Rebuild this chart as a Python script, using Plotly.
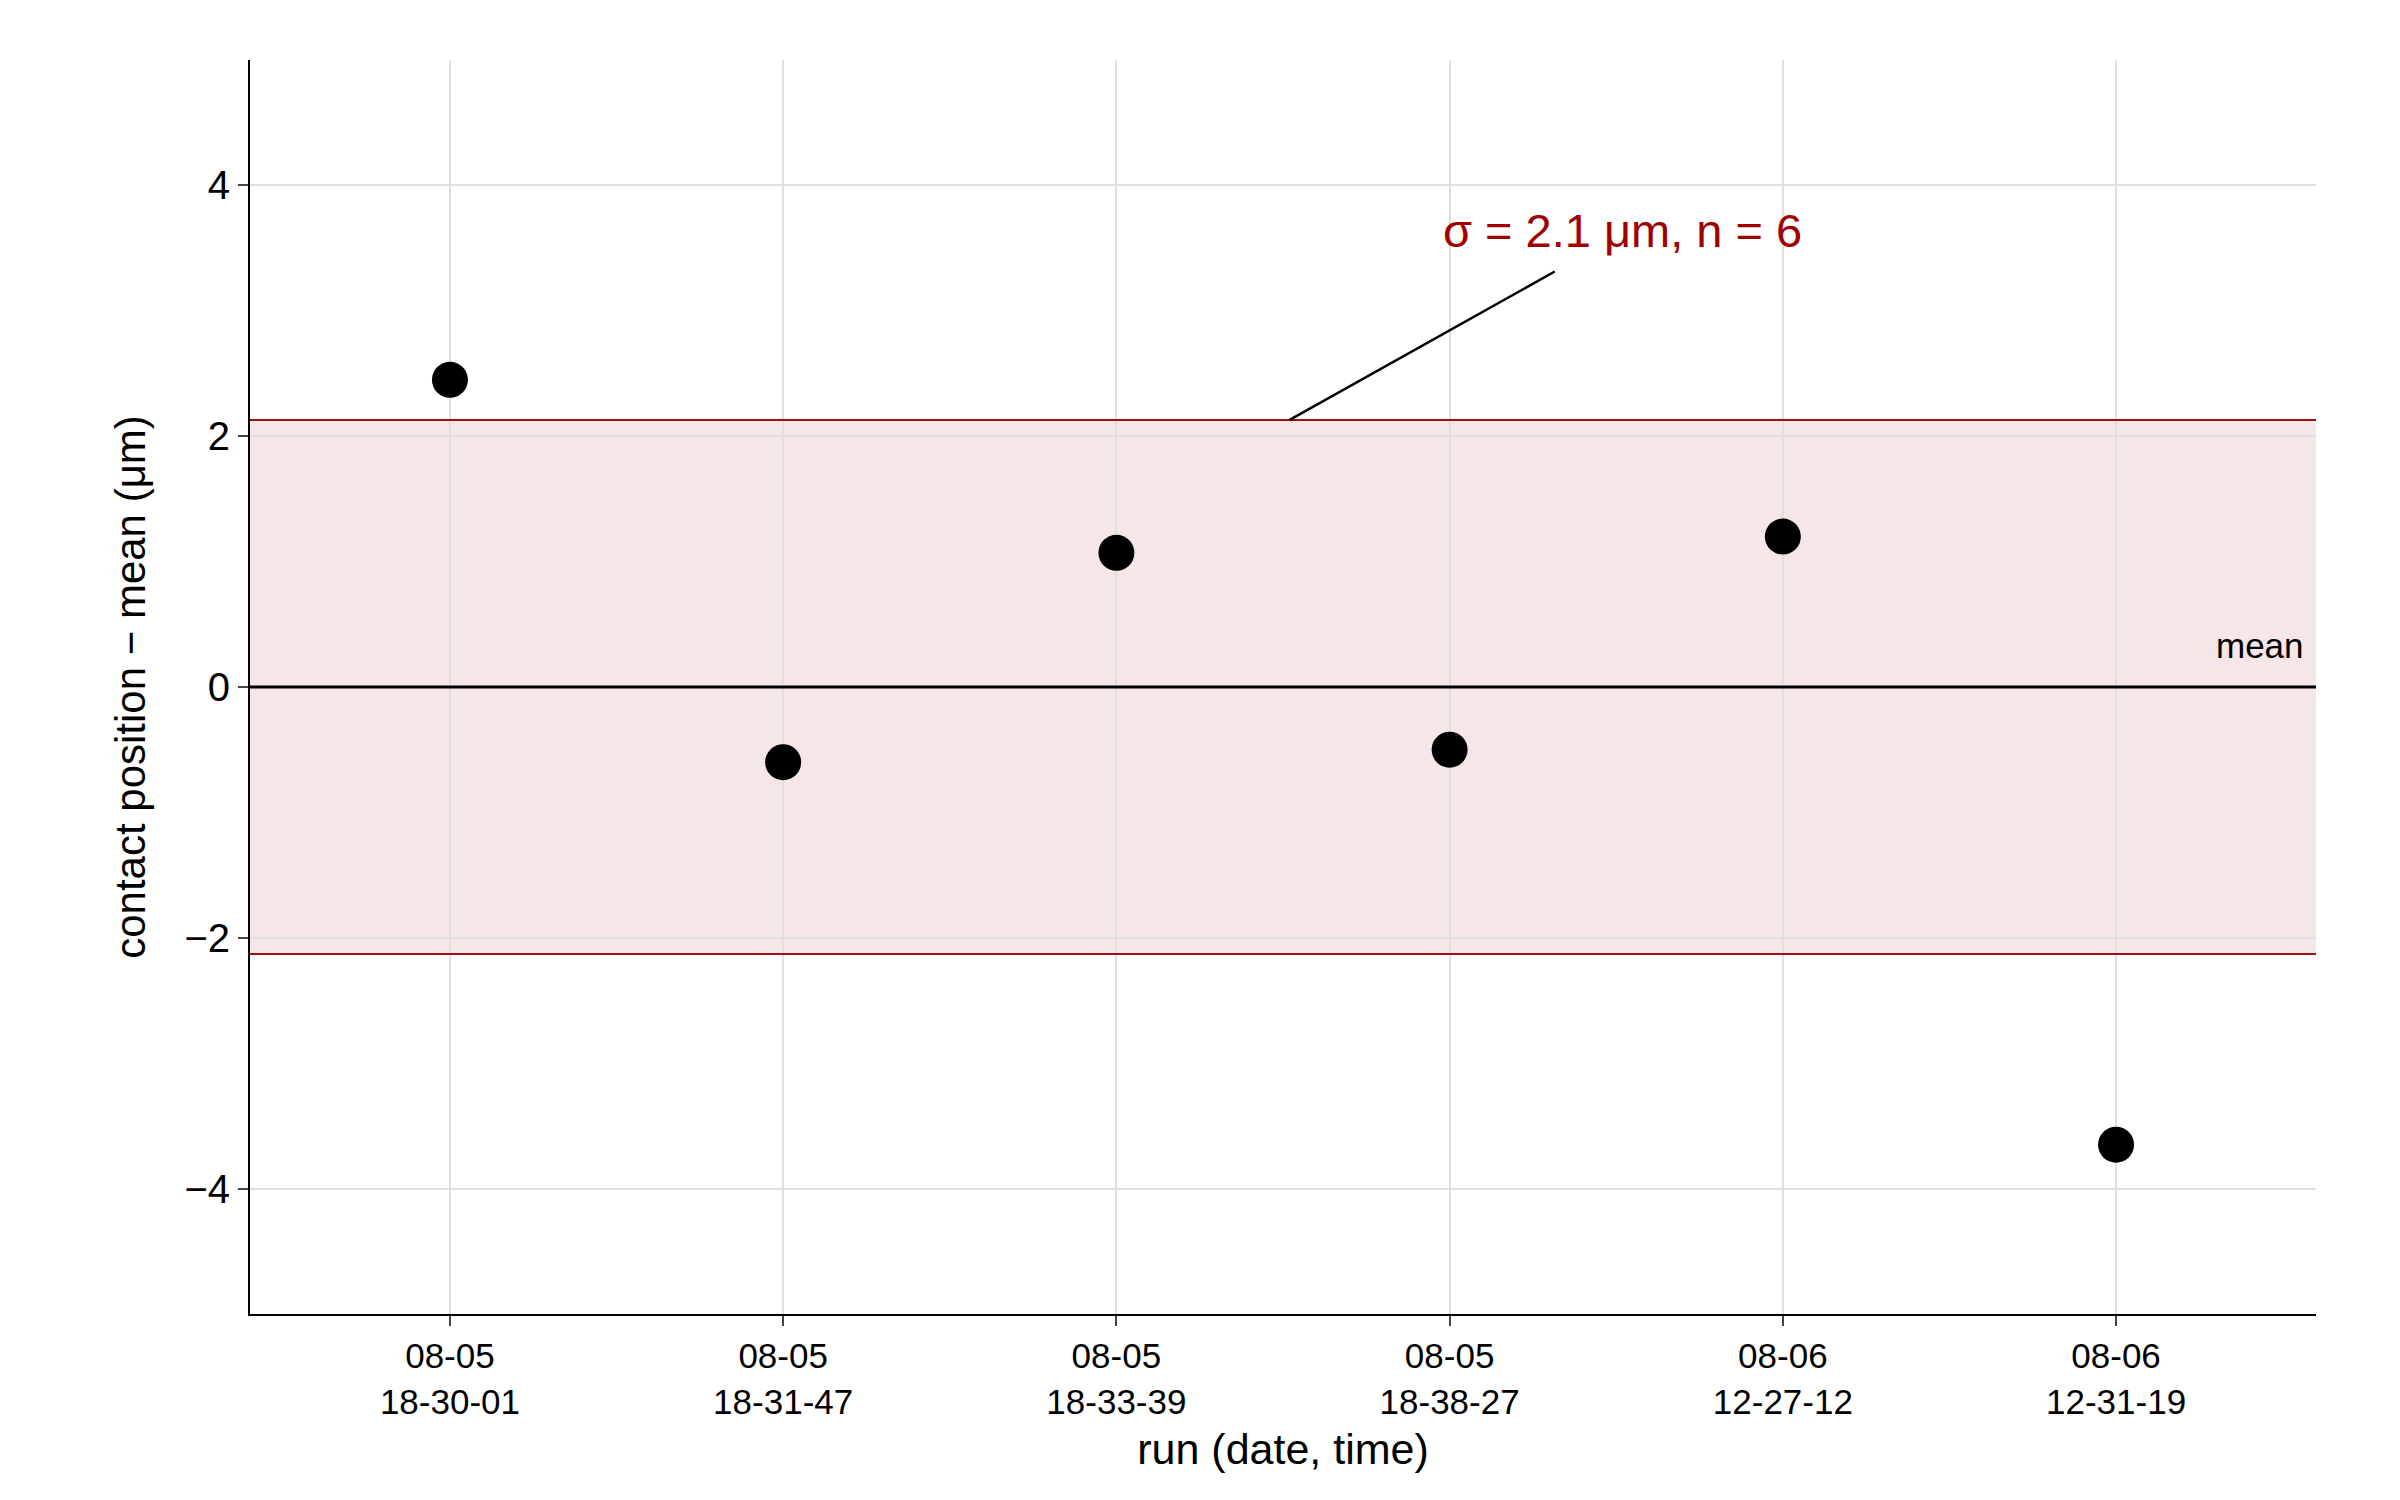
import plotly.graph_objects as go

runs = ["08-05<br>18-30-01", "08-05<br>18-31-47", "08-05<br>18-33-39",
        "08-05<br>18-38-27", "08-06<br>12-27-12", "08-06<br>12-31-19"]
values = [2.45, -0.60, 1.07, -0.50, 1.20, -3.65]
sigma = 2.13
n = len(values)
idx = list(range(n))

F = "Liberation Sans, Arial, sans-serif"
fig = go.Figure()
fig.add_hrect(y0=-sigma, y1=sigma, fillcolor="rgba(160,30,40,0.11)", line_width=0, layer="below")
for yv in (sigma, -sigma):
    fig.add_hline(y=yv, line=dict(color="#a01010", width=2))
fig.add_hline(y=0, line=dict(color="black", width=3))
fig.add_trace(go.Scatter(x=idx, y=values, mode="markers",
                         marker=dict(color="black", size=36), showlegend=False))
fig.add_annotation(x=2.52, y=sigma, ax=3.32, ay=3.32, xref="x", yref="y", axref="x", ayref="y",
                   showarrow=True, arrowhead=0, arrowwidth=2.5, arrowcolor="black", text="")
fig.add_annotation(x=3.52, y=3.64, xref="x", yref="y", text="σ = 2.1 μm, n = 6", showarrow=False,
                   font=dict(family=F, size=47, color="#a00000"))
fig.add_annotation(x=0.995, y=0.33, xref="paper", yref="y", xanchor="right", text="mean", showarrow=False,
                   font=dict(family=F, size=35, color="black"))
fig.update_layout(
    width=2400, height=1500, plot_bgcolor="white", paper_bgcolor="white",
    margin=dict(l=242, r=92, t=52, b=194),
    font=dict(family=F, color="black"),
    xaxis=dict(range=[-0.6, 5.6], tickvals=idx, ticktext=runs, showgrid=True, gridcolor="#e0e0e0",
               gridwidth=2, showline=True, linecolor="black", linewidth=2, ticks="outside", ticklen=10,
               tickwidth=2, tickfont=dict(size=35), zeroline=False,
               title=dict(text="run (date, time)", font=dict(size=43), standoff=14)),
    yaxis=dict(range=[-5, 5], tickvals=[-4, -2, 0, 2, 4], ticktext=["−4", "−2", "0", "2", "4"],
               showgrid=True, gridcolor="#e0e0e0", gridwidth=2, showline=True, linecolor="black",
               linewidth=2, ticks="outside", ticklen=10, tickwidth=2, tickfont=dict(size=40),
               zeroline=False, title=dict(text="contact position − mean (μm)", font=dict(size=42), standoff=26)),
)
fig.write_html("out.html")
